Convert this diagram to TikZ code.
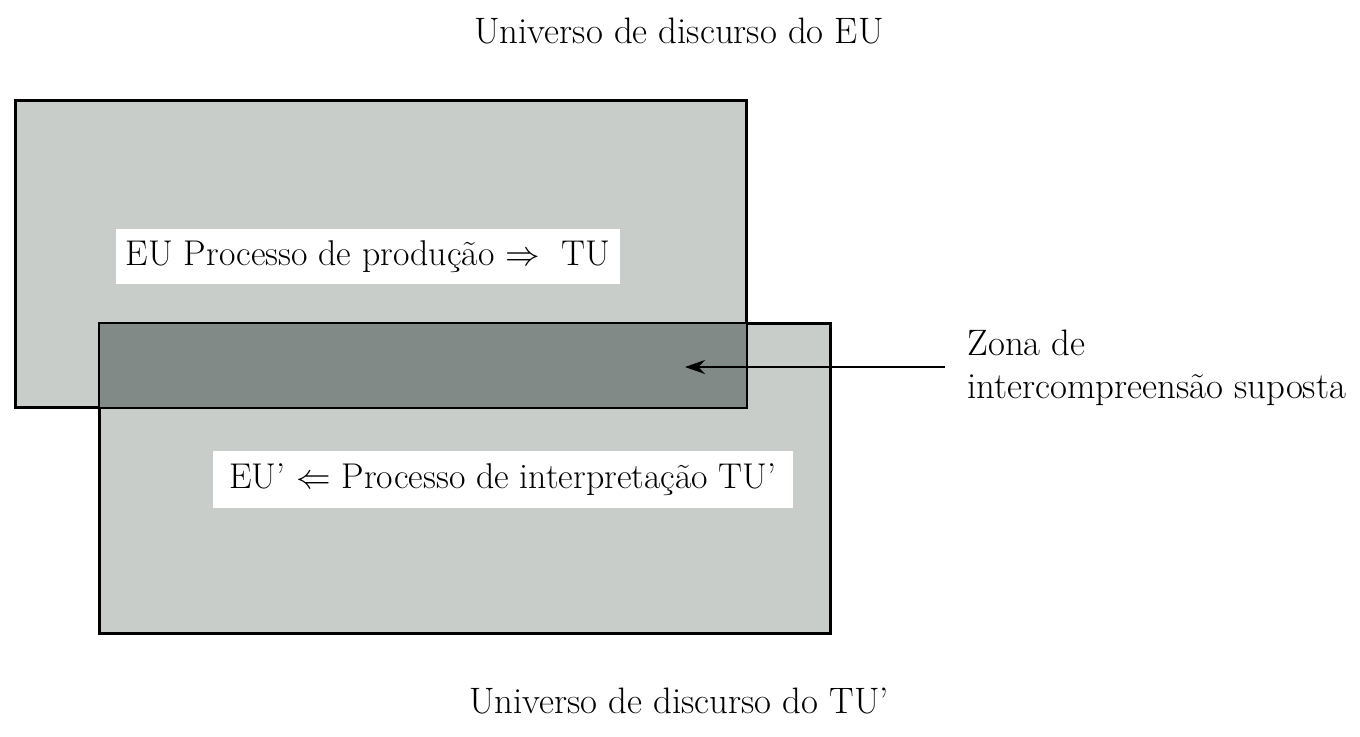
\documentclass[tikz,border=0pt]{standalone}
\usetikzlibrary{arrows.meta}
\definecolor{boxlight}{RGB}{200,205,202}
\definecolor{boxdark}{RGB}{130,138,135}
\begin{document}
\begin{tikzpicture}[x=0.5pt,y=-0.5pt,
  txt/.style={font=\fontsize{18.4}{21.5}\selectfont, inner sep=0pt},
  univ/.style={draw=black, line width=1pt, fill=boxlight, inner sep=0pt},
  label/.style={fill=white, inner sep=0pt, font=\fontsize{17.9}{21.5}\selectfont},
  arr/.style={-{Stealth[length=10pt,width=7pt]}, line width=1pt}]
\useasboundingbox (0,0) rectangle (1360,736);
% universes
\node[univ, minimum width=365pt, minimum height=153pt] (eubox) at (381,254) {};
\node[univ, minimum width=365pt, minimum height=154.5pt] (tubox) at (465,478.5) {};
% overlap zone
\node[fill=boxdark, inner sep=0pt, minimum width=323pt, minimum height=41.5pt] (zone) at (423,365.5) {};
% borders on top
\draw[line width=1pt] (eubox.north west) rectangle (eubox.south east);
\draw[line width=1pt] (tubox.north west) rectangle (tubox.south east);
% labels
\node[label, minimum width=252pt, minimum height=27.5pt] (prod) at (368,256.5) {EU Processo de produ\c{c}\~ao $\Rightarrow$\ \ TU};
\node[label, minimum width=290pt, minimum height=28.5pt] (interp) at (503,479.5) {EU’ $\Leftarrow$ Processo de interpreta\c{c}\~ao TU’};
\node[txt, anchor=base] (title1) at (679,43) {Universo de discurso do EU};
\node[txt, anchor=base] (title2) at (679,713) {Universo de discurso do TU’};
\node[txt, align=left, anchor=west] (zona) at (967,368) {Zona de\\intercompreens\~ao suposta};
\coordinate (tip) at (685,367);
\draw[arr] ([xshift=-11pt,yshift=0.5pt]zona.west) -- (tip);
\end{tikzpicture}
\end{document}
